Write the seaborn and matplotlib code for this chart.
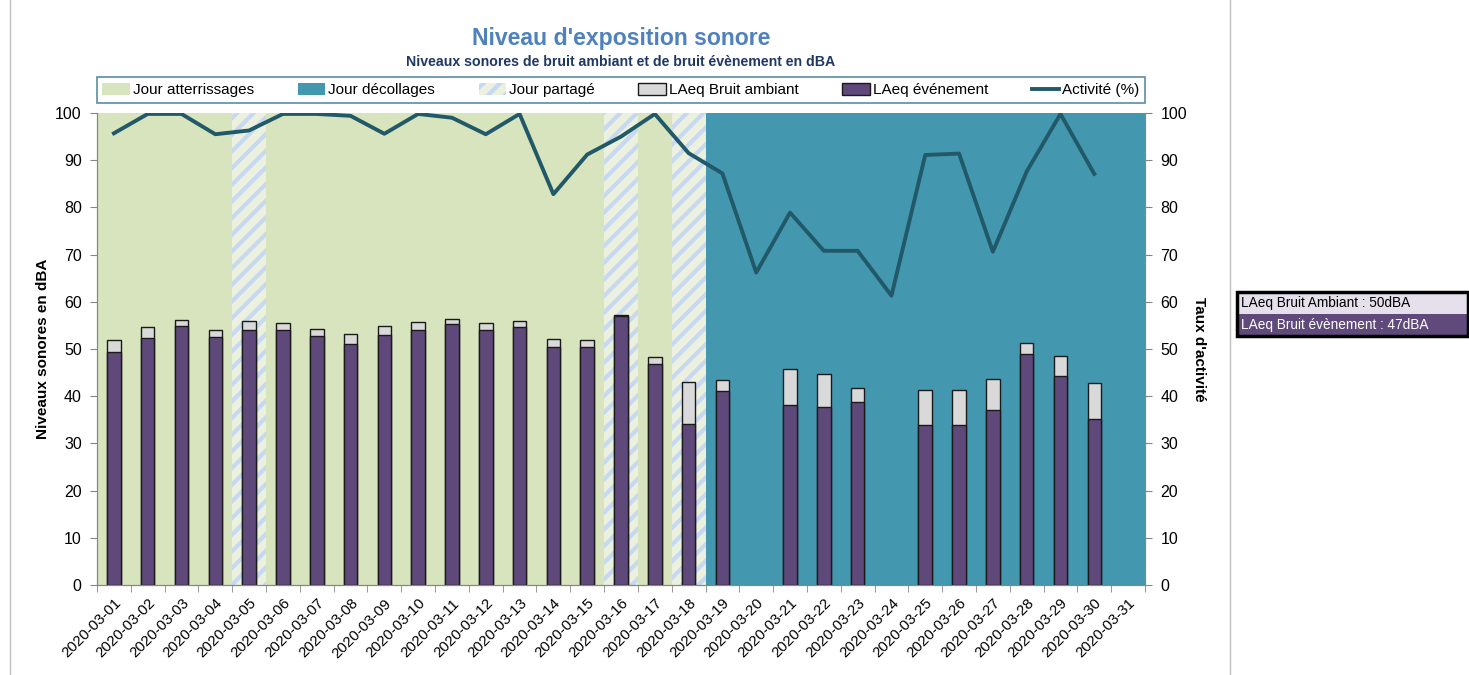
import matplotlib
matplotlib.use("Agg")
import matplotlib.pyplot as plt
import seaborn as sns
import pandas as pd
import numpy as np
from matplotlib.patches import Patch, Rectangle
from matplotlib.lines import Line2D

plt.rcParams['font.family'] = ['Liberation Sans', 'DejaVu Sans']
plt.rcParams['hatch.linewidth'] = 3.0

dates = ["2020-03-01", "2020-03-02", "2020-03-03", "2020-03-04", "2020-03-05",
         "2020-03-06", "2020-03-07", "2020-03-08", "2020-03-09", "2020-03-10",
         "2020-03-11", "2020-03-12", "2020-03-13", "2020-03-14", "2020-03-15",
         "2020-03-16", "2020-03-17", "2020-03-18", "2020-03-19", "2020-03-20",
         "2020-03-21", "2020-03-22", "2020-03-23", "2020-03-24", "2020-03-25",
         "2020-03-26", "2020-03-27", "2020-03-28", "2020-03-29", "2020-03-30",
         "2020-03-31"]
# A = jour atterrissages, D = jour décollages, P = jour partagé
day_type = ["A", "A", "A", "A", "P", "A", "A", "A", "A", "A",
            "A", "A", "A", "A", "A", "P", "A", "P", "D", "D",
            "D", "D", "D", "D", "D", "D", "D", "D", "D", "D", "D"]
ambient = [52.0, 54.7, 56.1, 54.0, 55.9, 55.6, 54.2, 53.2, 54.9, 55.8,
           56.4, 55.6, 55.9, 52.1, 52.0, 57.3, 48.2, 43.0, 43.4, np.nan,
           45.8, 44.8, 41.7, np.nan, 41.4, 41.3, 43.7, 51.3, 48.6, 42.9, np.nan]
event = [49.3, 52.4, 54.9, 52.5, 54.1, 54.0, 52.8, 51.1, 53.0, 54.0,
         55.2, 54.0, 54.6, 50.4, 50.5, 56.9, 46.8, 34.1, 41.1, np.nan,
         38.2, 37.8, 38.7, np.nan, 33.8, 33.9, 37.1, 48.9, 44.3, 35.2, np.nan]
activity = [95.7, 99.8, 99.8, 95.5, 96.3, 99.8, 99.8, 99.4, 95.6, 99.8,
            99.0, 95.5, 99.8, 82.8, 91.2, 95.0, 99.8, 91.5, 87.2, 66.2,
            78.9, 70.8, 70.8, 61.3, 91.1, 91.4, 70.6, 87.6, 99.8, 87.1, np.nan]

summary_labels = ["LAeq Bruit Ambiant : 50dBA", "LAeq Bruit évènement : 47dBA"]

W, H = 1469, 675
fig = plt.figure(figsize=(W / 100, H / 100), dpi=100)
L, R, T, B = 97, 1145, 113, 585
ax = fig.add_axes([L / W, 1 - B / H, (R - L) / W, (B - T) / H])

GREEN = "#D7E4BD"
BLUE = "#4398B0"
HATCH_BG = "#EBF1DE"
HATCH_FG = "#C6D9F1"
PURPLE = "#5F497A"
GREY = "#D9D9D9"
LINE = "#215968"
AXIS = "#868686"

# backgrounds
for i, t in enumerate(day_type):
    if t == "A":
        ax.axvspan(i - 0.5, i + 0.5, facecolor=GREEN, lw=0, zorder=0)
    elif t == "D":
        ax.axvspan(i - 0.5, i + 0.5, facecolor=BLUE, lw=0, zorder=0)
    else:
        ax.axvspan(i - 0.5, i + 0.5, facecolor=HATCH_BG, edgecolor=HATCH_FG,
                   hatch="//", lw=0, zorder=0)

df = pd.DataFrame({"date": dates, "ambient": ambient, "event": event, "activity": activity})
df_b = df.dropna(subset=["ambient"])

sns.barplot(data=df_b, x="date", y="ambient", order=dates, color=GREY, saturation=1,
            edgecolor="#1a1a1a", linewidth=1.0, width=0.4, errorbar=None, ax=ax, zorder=2)
sns.barplot(data=df_b, x="date", y="event", order=dates, color=PURPLE, saturation=1,
            edgecolor="#1a1a1a", linewidth=1.0, width=0.4, errorbar=None, ax=ax, zorder=3)

ax.set_xlim(-0.5, len(dates) - 0.5)
ax.set_ylim(0, 100)
ax.set_yticks(np.arange(0, 101, 10))
ax.set_xticks(np.arange(len(dates)))
ax.set_xticklabels(dates, rotation=45, ha="right", rotation_mode="anchor", fontsize=10.8)
ax.set_xticks(np.arange(-0.5, len(dates), 1), minor=True)
ax.tick_params(axis="x", which="major", length=0, pad=8)
ax.tick_params(axis="x", which="minor", length=5, color=AXIS, direction="out")
ax.tick_params(axis="y", length=5, color=AXIS, labelsize=11.5, pad=6)
ax.set_xlabel("")
ax.set_ylabel("Niveaux sonores en dBA", fontsize=11, fontweight="bold", labelpad=4)
ax.spines["top"].set_visible(False)
for s in ["left", "bottom", "right"]:
    ax.spines[s].set_color(AXIS)

ax2 = ax.twinx()
df_l = df.dropna(subset=["activity"])
xpos = [dates.index(d) for d in df_l["date"]]
sns.lineplot(x=xpos, y=df_l["activity"].values, ax=ax2, color=LINE, lw=2.8, zorder=5)
ax2.set_xlim(-0.5, len(dates) - 0.5)
ax2.set_ylim(0, 100)
ax2.set_yticks(np.arange(0, 101, 10))
ax2.tick_params(axis="y", length=5, color=AXIS, labelsize=11.5, pad=6)
ax2.set_ylabel("Taux d'activité", fontsize=11, fontweight="bold", rotation=-90, labelpad=14)
ax2.spines["top"].set_visible(False)
for s in ["left", "bottom", "right"]:
    ax2.spines[s].set_color(AXIS)

# titles
cx = (L + R) / 2 / W
fig.text(cx, 1 - 38 / H, "Niveau d'exposition sonore", ha="center", va="center",
         fontsize=16.6, fontweight="bold", color="#4F81BD")
fig.text(cx, 1 - 62 / H, "Niveaux sonores de bruit ambiant et de bruit évènement en dBA",
         ha="center", va="center", fontsize=10.2, fontweight="bold", color="#1F3864")

# legend
handles = [
    Patch(facecolor=GREEN, edgecolor="none"),
    Patch(facecolor=BLUE, edgecolor="none"),
    Patch(facecolor=HATCH_BG, edgecolor=HATCH_FG, hatch="//", lw=0),
    Patch(facecolor=GREY, edgecolor="#1a1a1a", lw=1),
    Patch(facecolor=PURPLE, edgecolor="#1a1a1a", lw=1),
    Line2D([0], [0], color=LINE, lw=2.8),
]
labels = ["Jour atterrissages", "Jour décollages", "Jour partagé",
          "LAeq Bruit ambiant", "LAeq événement", "Activité (%)"]
leg = fig.legend(handles, labels, loc="center",
                 bbox_to_anchor=(L / W, 1 - 103 / H, (R - L) / W, 26 / H),
                 mode="expand", ncol=6, frameon=True, fancybox=False,
                 fontsize=11, handlelength=1.8, handleheight=0.9, handletextpad=0.2,
                 borderpad=0.35, borderaxespad=0)
leg._legend_box.align = "center"
leg.get_frame().set_edgecolor("#31708A")
leg.get_frame().set_linewidth(1.2)

# outer chart border (left and right edges)
fig.add_artist(Line2D([10 / W, 10 / W], [0, 1], transform=fig.transFigure,
                      color="#BFBFBF", lw=1))
fig.add_artist(Line2D([1230 / W, 1230 / W], [0, 1], transform=fig.transFigure,
                      color="#BFBFBF", lw=1))

# summary box
bx0, bx1 = 1237, 1468
fig.add_artist(Rectangle((bx0 / W, 1 - 314 / H), (bx1 - bx0) / W, 22 / H,
                         transform=fig.transFigure, facecolor="#E6E0EC", edgecolor="none"))
fig.add_artist(Rectangle((bx0 / W, 1 - 336 / H), (bx1 - bx0) / W, 22 / H,
                         transform=fig.transFigure, facecolor="#604A7B", edgecolor="none"))
fig.add_artist(Rectangle((bx0 / W, 1 - 336 / H), (bx1 - bx0) / W, 44 / H,
                         transform=fig.transFigure, fill=False, edgecolor="black", lw=2.5))
fig.text((bx0 + 4) / W, 1 - 303 / H, summary_labels[0], ha="left", va="center",
         fontsize=9.8, color="black")
fig.text((bx0 + 4) / W, 1 - 325 / H, summary_labels[1], ha="left", va="center",
         fontsize=9.8, color="white")

fig.savefig("out.png", dpi=100)
